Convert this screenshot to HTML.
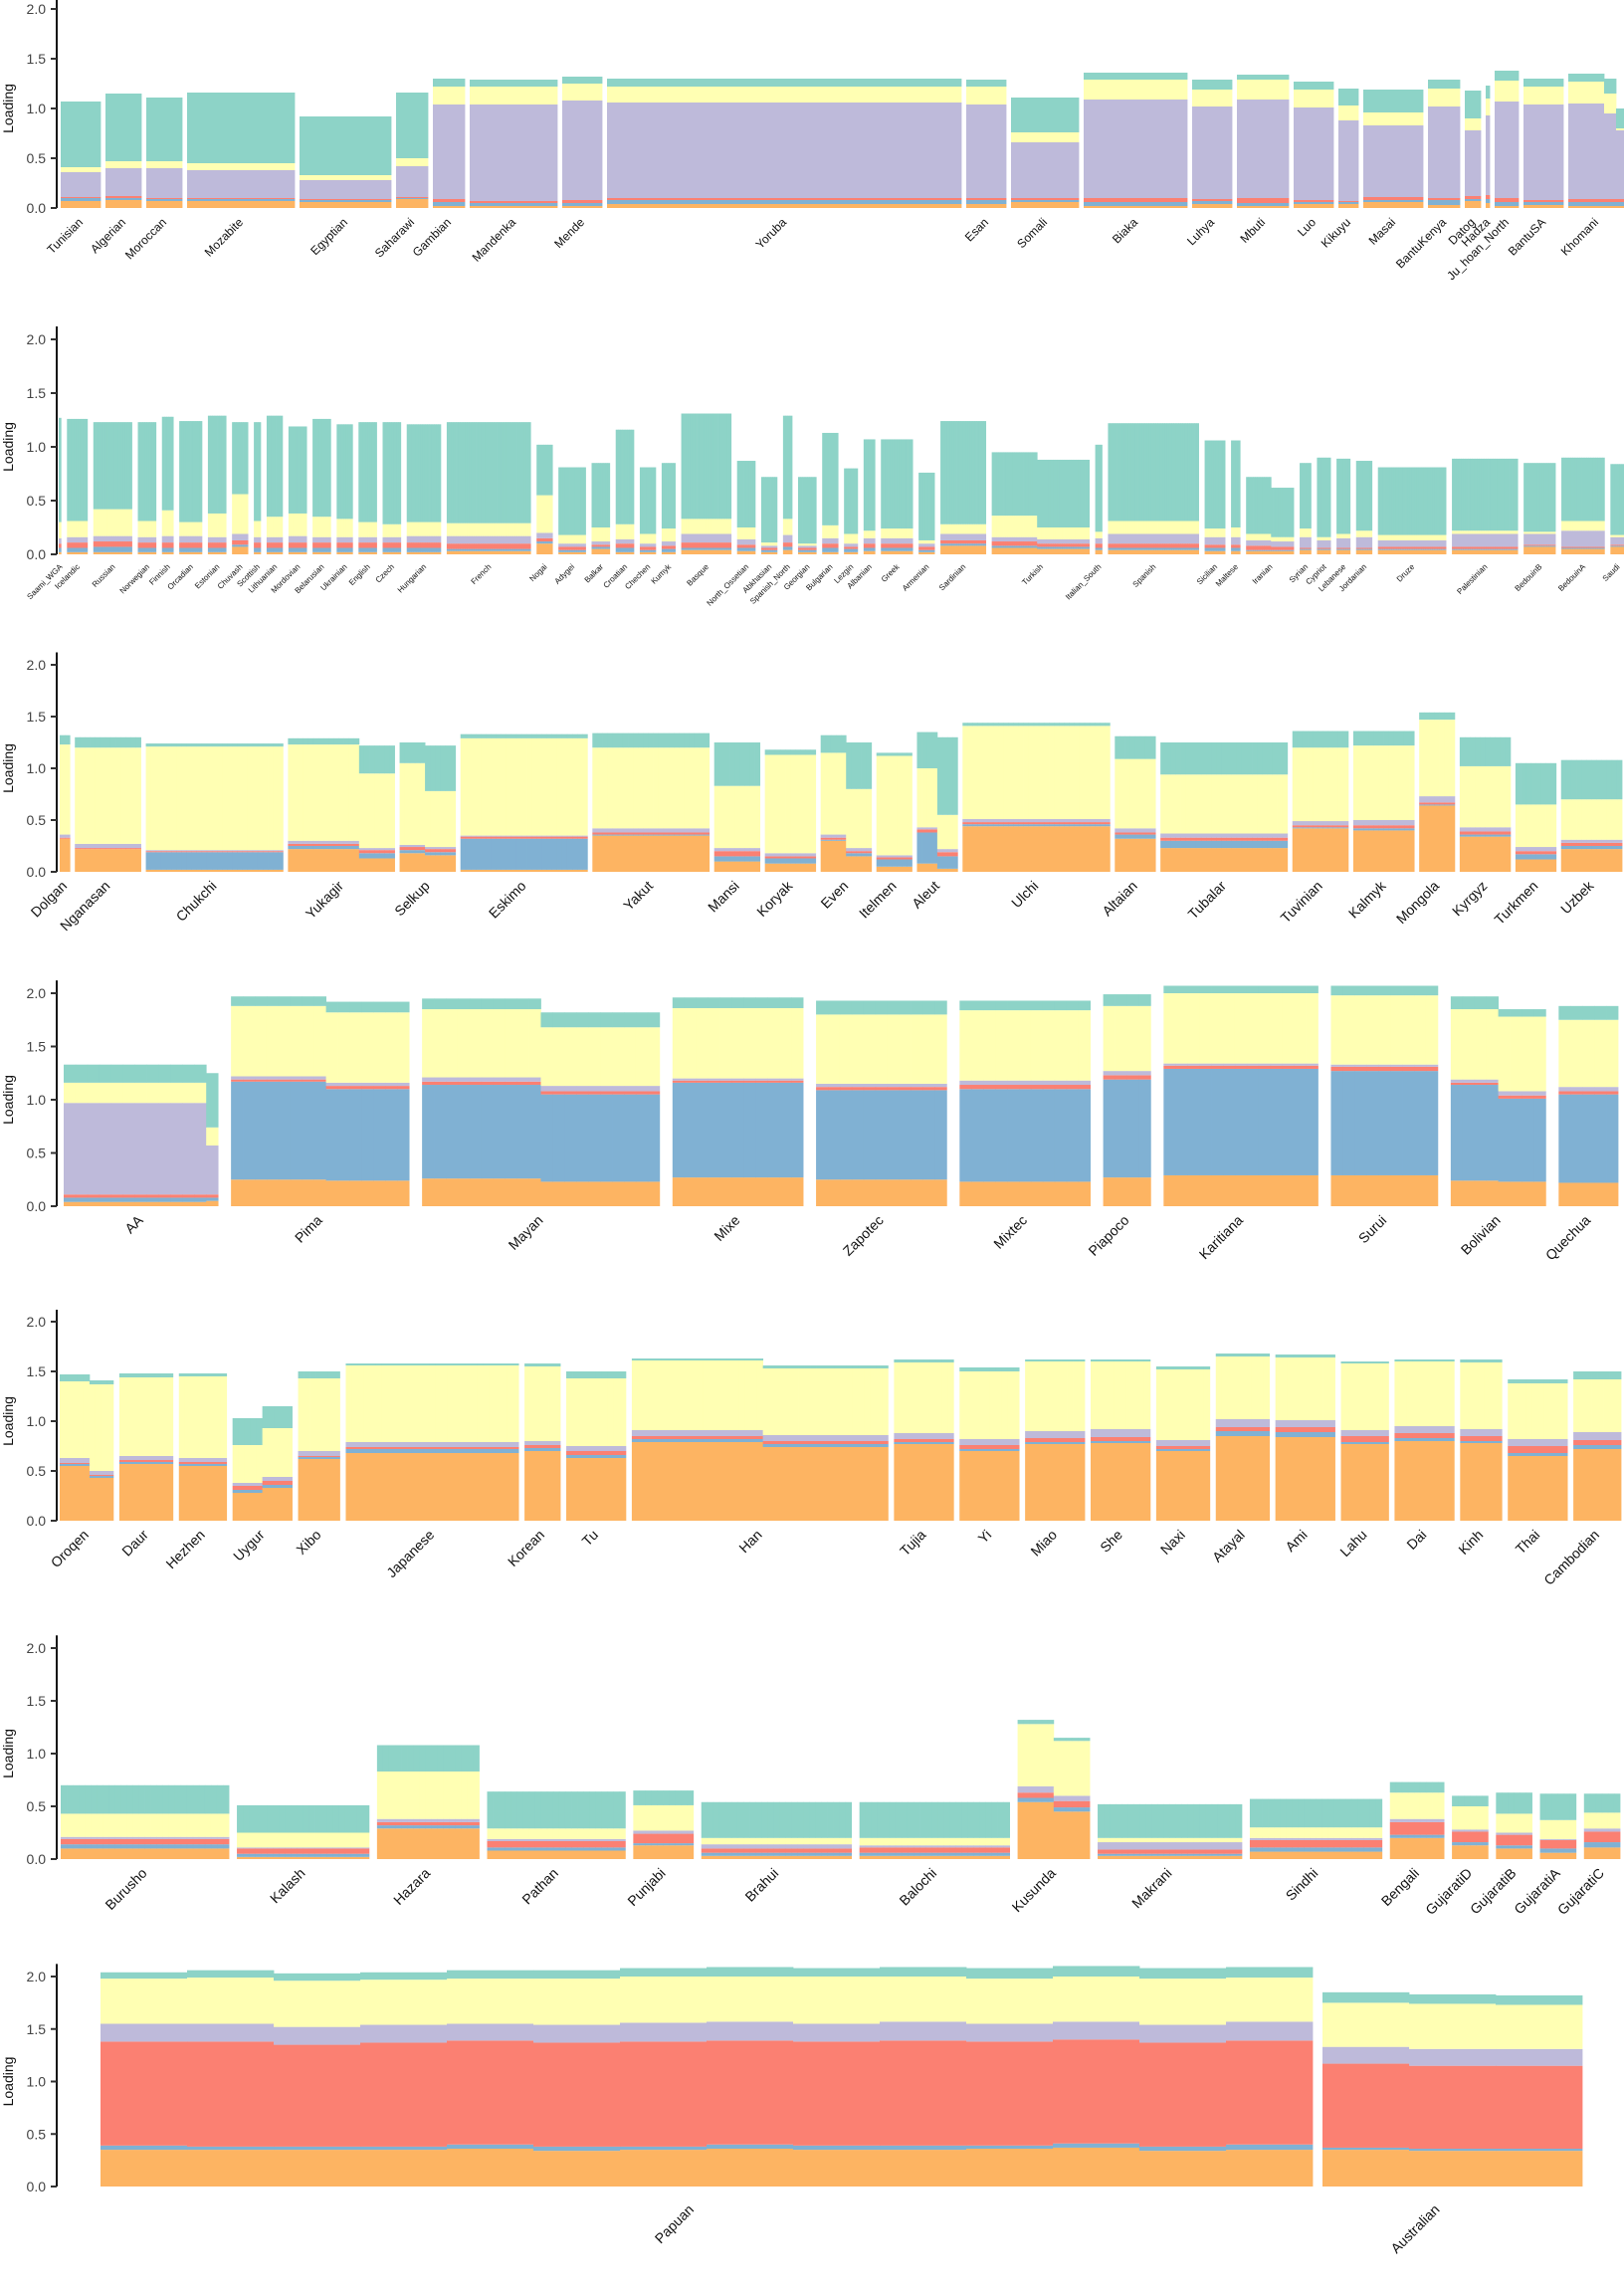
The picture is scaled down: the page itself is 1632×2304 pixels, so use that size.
<!DOCTYPE html>
<html><head><meta charset="utf-8">
<style>
html,body{margin:0;padding:0;background:#fff;}
svg{display:block;}
text{font-family:"Liberation Sans",sans-serif;}
</style></head>
<body>
<svg id="chart" width="1632" height="2304" xmlns="http://www.w3.org/2000/svg"></svg>
<script>
// Component order bottom->top: orange, blue, red, lavender, yellow, teal. Values are cumulative tops.
const componentNames = ['c1','c2','c3','c4','c5','c6'];
const p1Groups = ['Tunisian','Algerian','Moroccan','Mozabite','Egyptian','Saharawi','Gambian','Mandenka','Mende','Yoruba','Esan','Somali','Biaka','Luhya','Mbuti','Luo','Kikuyu','Masai','BantuKenya','Datog','Hadza','Ju_hoan_North','BantuSA','Khomani'];
const p1Data = [
[[10,.07,.10,.11,.36,.41,1.07]],[[9,.08,.10,.12,.40,.47,1.15]],[[9,.07,.09,.10,.40,.47,1.11]],[[27,.07,.09,.10,.38,.45,1.16]],
[[23,.06,.08,.09,.28,.33,.92]],[[8,.09,.10,.11,.42,.50,1.16]],[[8,.02,.06,.09,1.04,1.22,1.30]],[[22,.02,.05,.07,1.04,1.22,1.29]],
[[10,.02,.05,.08,1.08,1.25,1.32]],[[89,.04,.08,.10,1.06,1.22,1.30]],[[10,.04,.08,.10,1.04,1.22,1.29]],[[17,.06,.08,.10,.66,.76,1.11]],
[[26,.02,.06,.10,1.09,1.29,1.36]],[[10,.04,.07,.09,1.02,1.19,1.29]],[[13,.02,.05,.10,1.09,1.29,1.34]],[[10,.04,.06,.08,1.01,1.19,1.27]],
[[5,.04,.06,.07,.88,1.03,1.20]],[[15,.06,.08,.11,.83,.96,1.19]],[[8,.03,.08,.10,1.02,1.20,1.29]],[[4,.07,.09,.12,.78,.90,1.18]],
[[1,.05,.09,.13,.93,1.10,1.23]],[[6,.02,.06,.10,1.07,1.28,1.38]],[[10,.03,.06,.08,1.04,1.22,1.30]],
[[9,.02,.06,.09,1.05,1.27,1.35],[3,.02,.06,.09,.95,1.15,1.30],[2,.02,.06,.09,.78,.80,1.00]]];

const p2Groups = ['Saami_WGA','Icelandic','Russian','Norwegian','Finnish','Orcadian','Estonian','Chuvash','Scottish','Lithuanian','Mordovian','Belarusian','Ukrainian','English','Czech','Hungarian','French','Nogai','Adygei','Balkar','Croatian','Chechen','Kumyk','Basque','North_Ossetian','Abkhasian','Spanish_North','Georgian','Bulgarian','Lezgin','Albanian','Greek','Armenian','Sardinian','Turkish','Italian_South','Spanish','Sicilian','Maltese','Iranian','Syrian','Cypriot','Lebanese','Jordanian','Druze','Palestinian','BedouinB','BedouinA','Saudi'];
const p2Data = [
[[1,.02,.06,.10,.15,.30,1.27]],[[9,.02,.06,.11,.16,.31,1.26]],[[17,.02,.07,.12,.17,.42,1.23]],[[8,.02,.06,.11,.16,.31,1.23]],
[[5,.02,.06,.11,.17,.41,1.28]],[[10,.02,.06,.11,.17,.30,1.24]],[[8,.02,.06,.11,.16,.38,1.29]],[[7,.07,.09,.13,.19,.56,1.23]],
[[3,.02,.06,.11,.16,.31,1.23]],[[7,.02,.06,.11,.16,.35,1.29]],[[8,.02,.06,.11,.17,.38,1.19]],[[8,.02,.06,.11,.16,.35,1.26]],
[[7,.02,.06,.11,.16,.33,1.21]],[[8,.02,.06,.11,.16,.30,1.23]],[[8,.02,.06,.11,.16,.28,1.23]],[[15,.02,.06,.11,.17,.30,1.21]],
[[37,.03,.05,.10,.17,.29,1.23]],[[7,.10,.12,.15,.20,.55,1.02]],[[12,.02,.04,.07,.10,.18,.81]],[[8,.05,.07,.09,.12,.25,.85]],
[[8,.02,.06,.10,.14,.28,1.16]],[[7,.02,.04,.07,.10,.19,.81]],[[6,.02,.05,.08,.12,.24,.85]],[[22,.04,.06,.11,.19,.33,1.31]],
[[8,.03,.06,.09,.14,.25,.87]],[[7,.02,.04,.06,.08,.11,.72]],[[4,.04,.07,.11,.18,.33,1.29]],[[8,.02,.04,.06,.08,.10,.72]],
[[7,.02,.06,.10,.15,.27,1.13]],[[6,.02,.05,.07,.10,.19,.80]],[[5,.03,.06,.10,.15,.22,1.07]],[[14,.03,.06,.10,.15,.24,1.07]],
[[7,.02,.04,.07,.10,.13,.76]],[[20,.08,.10,.13,.19,.28,1.24]],[[20,.06,.08,.12,.16,.36,.95],[23,.05,.07,.10,.14,.25,.88]],
[[3,.04,.06,.10,.15,.21,1.02]],[[40,.04,.06,.10,.19,.31,1.22]],[[9,.03,.06,.09,.16,.24,1.06]],[[4,.03,.06,.09,.16,.25,1.06]],
[[11,.03,.04,.08,.13,.19,.72],[10,.03,.04,.07,.12,.16,.62]],[[5,.04,.05,.06,.16,.24,.85]],[[6,.04,.05,.06,.13,.16,.90]],
[[6,.04,.05,.06,.15,.19,.89]],[[7,.04,.05,.06,.16,.22,.87]],[[30,.04,.05,.07,.13,.18,.81]],[[29,.04,.05,.07,.19,.22,.89]],
[[14,.07,.08,.09,.19,.21,.85]],[[19,.05,.06,.07,.22,.31,.90]],[[6,.07,.08,.09,.16,.18,.84]]];

const p3Groups = ['Dolgan','Nganasan','Chukchi','Yukagir','Selkup','Eskimo','Yakut','Mansi','Koryak','Even','Itelmen','Aleut','Ulchi','Altaian','Tubalar','Tuvinian','Kalmyk','Mongola','Kyrgyz','Turkmen','Uzbek'];
const p3Data = [
[[2,.32,.32,.33,.36,1.23,1.32]],[[13,.22,.22,.23,.27,1.20,1.30]],[[27,.02,.19,.20,.21,1.21,1.24]],
[[14,.22,.25,.27,.30,1.23,1.29],[7,.13,.18,.21,.23,.95,1.22]],[[5,.18,.21,.24,.26,1.05,1.25],[6,.16,.19,.22,.24,.78,1.22]],
[[25,.02,.32,.34,.35,1.29,1.33]],[[23,.35,.36,.38,.42,1.20,1.34]],[[9,.10,.15,.20,.23,.83,1.25]],[[10,.08,.13,.15,.18,1.13,1.18]],
[[5,.30,.31,.33,.36,1.15,1.32],[5,.15,.18,.20,.23,.80,1.25]],[[7,.05,.12,.14,.16,1.12,1.15]],
[[4,.08,.38,.41,.43,1.00,1.35],[4,.03,.15,.19,.22,.55,1.30]],[[29,.44,.46,.48,.51,1.41,1.44]],[[8,.32,.36,.38,.42,1.09,1.31]],
[[25,.23,.30,.33,.37,.94,1.25]],[[11,.42,.43,.45,.49,1.20,1.36]],[[12,.40,.42,.45,.50,1.22,1.36]],[[7,.64,.65,.67,.73,1.47,1.54]],
[[10,.34,.36,.39,.43,1.02,1.30]],[[8,.12,.17,.20,.24,.65,1.05]],[[12,.22,.25,.28,.31,.70,1.08]]];

const p4Groups = ['AA','Pima','Mayan','Mixe','Zapotec','Mixtec','Piapoco','Karitiana','Surui','Bolivian','Quechua'];
const p4Data = [
[[12,.04,.08,.11,.97,1.16,1.33],[1,.05,.08,.11,.57,.74,1.25]],[[8,.25,1.17,1.19,1.22,1.88,1.97],[7,.24,1.10,1.13,1.16,1.82,1.92]],
[[10,.26,1.14,1.17,1.21,1.85,1.95],[10,.23,1.05,1.08,1.13,1.68,1.82]],[[11,.27,1.16,1.18,1.20,1.86,1.96]],
[[11,.25,1.09,1.12,1.15,1.80,1.93]],[[11,.23,1.10,1.14,1.18,1.84,1.93]],[[4,.27,1.19,1.23,1.27,1.88,1.99]],
[[13,.29,1.29,1.32,1.34,2.00,2.07]],[[9,.29,1.27,1.31,1.33,1.98,2.07]],
[[4,.24,1.14,1.16,1.19,1.85,1.97],[4,.23,1.01,1.04,1.08,1.78,1.85]],[[5,.22,1.05,1.08,1.12,1.75,1.88]]];

const p5Groups = ['Oroqen','Daur','Hezhen','Uygur','Xibo','Japanese','Korean','Tu','Han','Tujia','Yi','Miao','She','Naxi','Atayal','Ami','Lahu','Dai','Kinh','Thai','Cambodian'];
const p5Data = [
[[5,.55,.57,.58,.63,1.40,1.47],[4,.43,.45,.46,.50,1.37,1.41]],[[9,.57,.59,.61,.65,1.44,1.48]],[[8,.55,.57,.59,.63,1.45,1.48]],
[[5,.28,.31,.35,.38,.76,1.03],[5,.33,.36,.40,.44,.93,1.15]],[[7,.62,.64,.65,.70,1.43,1.50]],[[29,.68,.72,.74,.79,1.56,1.58]],
[[6,.70,.73,.76,.80,1.55,1.58]],[[10,.63,.66,.70,.75,1.43,1.50]],[[22,.79,.82,.85,.91,1.61,1.63],[21,.74,.77,.80,.86,1.53,1.56]],
[[10,.77,.79,.82,.88,1.59,1.62]],[[10,.70,.72,.76,.82,1.50,1.54]],[[10,.77,.79,.83,.90,1.60,1.62]],[[10,.78,.80,.84,.92,1.60,1.62]],
[[9,.70,.72,.75,.81,1.52,1.55]],[[9,.85,.90,.94,1.02,1.65,1.68]],[[10,.84,.89,.94,1.01,1.64,1.67]],[[8,.77,.79,.85,.91,1.58,1.60]],
[[10,.80,.83,.88,.95,1.60,1.62]],[[7,.78,.80,.85,.92,1.59,1.62]],[[10,.65,.68,.75,.82,1.38,1.42]],[[8,.72,.76,.81,.89,1.42,1.50]]];

const p6Groups = ['Burusho','Kalash','Hazara','Pathan','Punjabi','Brahui','Balochi','Kusunda','Makrani','Sindhi','Bengali','GujaratiD','GujaratiB','GujaratiA','GujaratiC'];
const p6Data = [
[[28,.10,.14,.19,.21,.43,.70]],[[22,.02,.05,.10,.11,.25,.51]],[[17,.29,.32,.35,.38,.83,1.08]],[[23,.08,.11,.17,.19,.29,.64]],
[[10,.13,.15,.24,.27,.51,.65]],[[25,.03,.06,.10,.14,.20,.54]],[[25,.03,.06,.11,.13,.20,.54]],
[[6,.54,.58,.63,.69,1.28,1.32],[6,.45,.49,.55,.60,1.12,1.15]],[[24,.03,.05,.09,.16,.20,.52]],[[22,.07,.11,.18,.20,.30,.57]],
[[9,.20,.23,.35,.38,.63,.73]],[[6,.13,.16,.26,.28,.50,.60]],[[6,.10,.13,.23,.25,.43,.63]],[[6,.06,.10,.18,.19,.37,.62]],[[6,.11,.16,.26,.29,.44,.62]]];

const p7Groups = ['Papuan','Australian'];
const p7Data = [
[[1,.35,.39,1.38,1.55,1.98,2.04],[1,.35,.38,1.38,1.55,1.99,2.06],[1,.35,.38,1.35,1.52,1.96,2.03],[1,.35,.38,1.37,1.54,1.97,2.04],
 [1,.36,.40,1.39,1.55,1.98,2.06],[1,.34,.38,1.37,1.54,1.98,2.06],[1,.35,.38,1.38,1.56,2.00,2.08],[1,.36,.40,1.39,1.57,2.00,2.09],
 [1,.35,.39,1.38,1.55,2.00,2.08],[1,.35,.39,1.39,1.57,2.00,2.09],[1,.36,.39,1.38,1.55,1.98,2.08],[1,.37,.41,1.40,1.57,2.00,2.10],
 [1,.34,.38,1.37,1.54,1.98,2.08],[1,.35,.40,1.39,1.57,1.99,2.09]],
[[1,.35,.37,1.17,1.33,1.75,1.85],[1,.34,.36,1.15,1.31,1.74,1.83],[1,.34,.36,1.15,1.31,1.73,1.82]]];

const tickValues = [0, 0.5, 1.0, 1.5, 2.0];
const tickLabels = ['0.0','0.5','1.0','1.5','2.0'];
const colors = ['#fdb462','#80b1d3','#fb8072','#bebada','#ffffb3','#8dd3c7'];

const panels = [
 {id:'p1',groups:p1Groups,data:p1Data,y0:209,unit:100,x0:61,x1:1632,gap:5,fs:12,dx:3,dy:15},
 {id:'p2',groups:p2Groups,data:p2Data,y0:557,unit:108,x0:59,x1:1632,gap:6,fs:8,dx:3,dy:13},
 {id:'p3',groups:p3Groups,data:p3Data,y0:876,unit:104,x0:60,x1:1630,gap:5,fs:14,dx:3,dy:15},
 {id:'p4',groups:p4Groups,data:p4Data,y0:1212,unit:107,x0:64,x1:1626,gap:13,fs:14,dx:3,dy:15},
 {id:'p5',groups:p5Groups,data:p5Data,y0:1528,unit:100,x0:60,x1:1629,gap:6,fs:14,dx:3,dy:15},
 {id:'p6',groups:p6Groups,data:p6Data,y0:1868,unit:106,x0:61,x1:1628,gap:8,fs:14,dx:3,dy:15},
 {id:'p7',groups:p7Groups,data:p7Data,y0:2197,unit:105.5,x0:101,x1:1590,gap:10,fs:14,dx:-12,dy:24}
];
const NS='http://www.w3.org/2000/svg';
const svg=document.getElementById('chart');
function mk(tag,attrs,parent){const e=document.createElementNS(NS,tag);for(const k in attrs)e.setAttribute(k,attrs[k]);(parent||svg).appendChild(e);return e;}

panels.forEach((p,pi)=>{
  const g=mk('g',{});
  
  
  const yScale=v=>p.y0-v*p.unit;
  let total=0;p.data.forEach(gr=>gr.forEach(s=>total+=s[0]));
  const bw=(p.x1-p.x0-p.gap*(p.groups.length-1))/total;
  let bi=0;
  p.data.forEach((gr,gi)=>{
    const gStart=p.x0+bi*bw+gi*p.gap;
    const gg=mk('g',{},g);
    
    
    gr.forEach(seg=>{
      for(let k=0;k<seg[0];k++){
        const x=p.x0+bi*bw+gi*p.gap;
        let prev=0;
        for(let c=0;c<6;c++){
          const top=seg[c+1];
          if(top>prev){
            const r=mk('rect',{x:x.toFixed(2),y:yScale(top).toFixed(2),width:(bw+0.4).toFixed(2),height:((top-prev)*p.unit).toFixed(2),fill:colors[c]},gg);
            
            
          }
          prev=Math.max(prev,top);
        }
        bi++;
      }
    });
    const gEnd=p.x0+bi*bw+gi*p.gap;
    const cx=(gStart+gEnd)/2+p.dx, ly=p.y0+p.dy;
    const t=mk('text',{x:cx,y:ly,'font-size':p.fs,'text-anchor':'end',fill:'#111',transform:`rotate(-45 ${cx} ${ly})`},g);
    t.textContent=p.groups[gi];
    
    
  });
  const ax=mk('line',{x1:57,x2:57,y1:yScale(2.12),y2:p.y0,stroke:'#111','stroke-width':2},g);
  
  
  tickValues.forEach((v,ti)=>{
    const y=yScale(v);
    const tk=mk('line',{x1:51,x2:57,y1:y,y2:y,stroke:'#333','stroke-width':2},g);
    
    
    const tl=mk('text',{x:46,y:y+5,'font-size':14,'text-anchor':'end',fill:'#444'},g);
    tl.textContent=tickLabels[ti];
    
    
  });
  const my=yScale(1.0);
  const yt=mk('text',{x:13,y:my,'font-size':14,'text-anchor':'middle',fill:'#111',transform:`rotate(-90 13 ${my})`},g);
  yt.textContent='Loading';
  
  
});
</script>
</body></html>
